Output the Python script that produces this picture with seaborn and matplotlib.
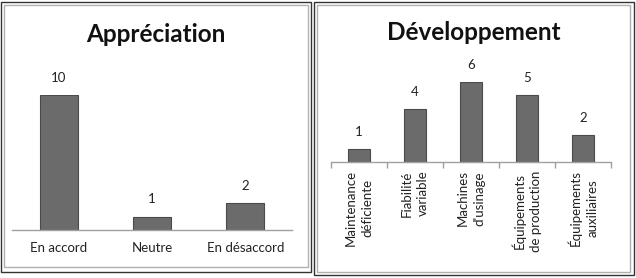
import matplotlib
matplotlib.use("Agg")
import matplotlib.pyplot as plt
import seaborn as sns
import pandas as pd
from matplotlib.patches import Rectangle

sns.set_theme(style="white")
plt.rcParams['font.family'] = ['Lato', 'DejaVu Sans']

# Data
appr_categories = ["En accord", "Neutre", "En désaccord"]
appr_values = [10, 1, 2]
dev_categories = ["Maintenance\ndéficiente", "Fiabilité\nvariable", "Machines\nd'usinage",
                  "Équipements\nde production", "Équipements\nauxiliaires"]
dev_values = [1, 4, 6, 5, 2]

W, H = 636, 278
fig = plt.figure(figsize=(W / 100, H / 100), dpi=100)
fig.patch.set_facecolor("white")

def px_rect(x0, y0, x1, y1):
    return [x0 / W, 1 - y1 / H, (x1 - x0) / W, (y1 - y0) / H]

# Panel frames
for (x0, y0, x1, y1, c, lw) in [(1, 2, 311, 272, "#333333", 1.0), (4, 5, 308, 267, "#b0b0b0", 1.0),
                                 (314, 2, 634, 275, "#333333", 1.0), (317, 5, 630, 272, "#b0b0b0", 1.0)]:
    fig.add_artist(Rectangle((x0 / W, 1 - y1 / H), (x1 - x0) / W, (y1 - y0) / H,
                             transform=fig.transFigure, fill=False, edgecolor=c, linewidth=lw))

bar_color = "#6b6b6b"
edge_color = "#4a4a4a"

def style_axes(ax):
    for s in ["top", "right", "left"]:
        ax.spines[s].set_visible(False)
    ax.spines["bottom"].set_color("#a0a0a0")
    ax.spines["bottom"].set_linewidth(1.0)
    ax.set_yticks([])
    ax.set_xlabel("")
    ax.set_ylabel("")
    ax.patch.set_alpha(0)

# Left chart
ax1 = fig.add_axes(px_rect(12, 95, 292, 230))
df1 = pd.DataFrame({"cat": appr_categories, "val": appr_values})
sns.barplot(data=df1, x="cat", y="val", ax=ax1, color=bar_color, width=0.41,
            edgecolor=edge_color, linewidth=0.8, saturation=1)
style_axes(ax1)
ax1.set_xlim(-0.5, len(appr_categories) - 0.5)
ax1.set_ylim(0, 10)
ax1.tick_params(axis="x", length=0, pad=9, labelsize=9.5, colors="#222222")
for i, v in enumerate(appr_values):
    ax1.annotate(str(v), (i, v), xytext=(0, 8), textcoords="offset points",
                 ha="center", va="bottom", fontsize=9.5, color="#222222")
fig.text(156 / W, 1 - 35 / H, "Appréciation", ha="center", va="center",
         fontsize=17.5, fontweight="bold", color="#111111")

# Right chart
ax2 = fig.add_axes(px_rect(331, 82, 611, 162))
df2 = pd.DataFrame({"cat": dev_categories, "val": dev_values})
sns.barplot(data=df2, x="cat", y="val", ax=ax2, color=bar_color, width=0.38,
            edgecolor=edge_color, linewidth=0.8, saturation=1)
style_axes(ax2)
ax2.set_xlim(-0.5, len(dev_categories) - 0.5)
ax2.set_ylim(0, 6)
ax2.set_xticks(range(len(dev_categories)))
ax2.set_xticklabels(dev_categories, rotation=90, ha="center", va="top",
                    fontsize=9.5, color="#222222", linespacing=1.45)
ax2.tick_params(axis="x", which="major", length=0, pad=6)
ax2.set_xticks([i - 0.5 for i in range(len(dev_categories) + 1)], minor=True)
ax2.tick_params(axis="x", which="minor", length=4, color="#a0a0a0", width=1, direction="out", bottom=True)
for i, v in enumerate(dev_values):
    ax2.annotate(str(v), (i, v), xytext=(0, 8), textcoords="offset points",
                 ha="center", va="bottom", fontsize=9.5, color="#222222")
fig.text(474 / W, 1 - 33 / H, "Développement", ha="center", va="center",
         fontsize=17.5, fontweight="bold", color="#111111")

fig.savefig("out.png", dpi=100)
